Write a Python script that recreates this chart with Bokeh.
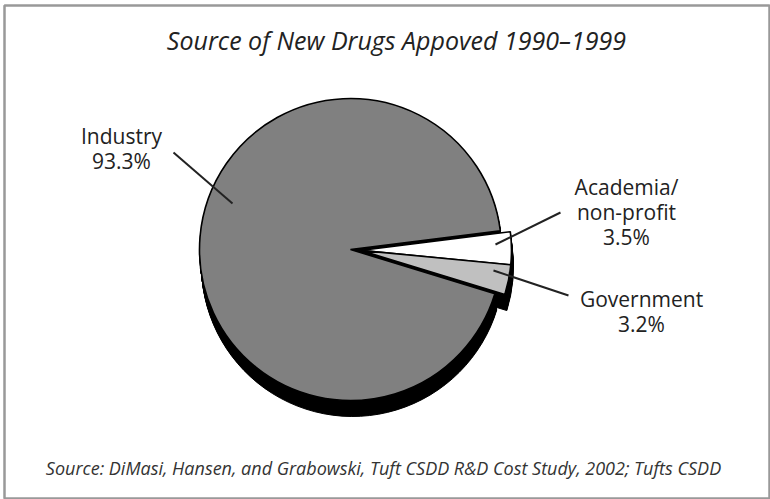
import math
from bokeh.plotting import figure
from bokeh.models import Range1d
from bokeh.core.properties import value
from bokeh.embed import file_html
from bokeh.resources import INLINE

# ---- data ----
categories = ["Industry", "Academia/\nnon-profit", "Government"]
shares = [93.3, 3.5, 3.2]
slice_colors = ["#808080", "#ffffff", "#c0c0c0"]
exploded = [False, True, True]
title_text = "Source of New Drugs Appoved 1990\u20131999"
source_text = "Source: DiMasi, Hansen, and Grabowski, Tuft CSDD R&D Cost Study, 2002; Tufts CSDD"

# ---- layout (pixels, y measured from top) ----
W, H = 770, 499
CX, CY, R = 350, 249, 151
START_DEG = 7.1          # upper edge of the exploded block
EXPLODE = 10
SHADOW = (2, 16)
label_pos = {            # centre x, first baseline y
    "Industry": (121, 135),
    "Academia/\nnon-profit": (626, 186),
    "Government": (641, 298),
}
line_h = 25
leaders = {
    "Industry": ((173, 152), (232, 203)),
    "Academia/\nnon-profit": ((560, 212), (495, 244)),
    "Government": ((493, 270), (568, 295)),
}

def py(y):
    return H - y

p = figure(width=W, height=H, x_range=Range1d(0, W), y_range=Range1d(0, H),
           output_backend="svg", toolbar_location=None, min_border=0,
           x_axis_type=None, y_axis_type=None)
p.grid.visible = False
p.outline_line_color = None
p.background_fill_color = "white"
p.border_fill_color = "white"

# compute angles: exploded slices clockwise from START, industry takes the rest
total = sum(shares)
angles = {}
a = math.radians(START_DEG)
for cat, s, ex in zip(categories, shares, exploded):
    if ex:
        span = 2 * math.pi * s / total
        angles[cat] = (a - span, a)
        a -= span
end_exploded = a
for cat, s, ex in zip(categories, shares, exploded):
    if not ex:
        angles[cat] = (math.radians(START_DEG), end_exploded + 2 * math.pi)

mid = (math.radians(START_DEG) + end_exploded) / 2
xs, ys, st, en, cols = [], [], [], [], []
for cat, col, ex in zip(categories, slice_colors, exploded):
    ox = EXPLODE * math.cos(mid) if ex else 0
    oy = EXPLODE * math.sin(mid) if ex else 0
    xs.append(CX + ox)
    ys.append(py(CY) + oy)
    st.append(angles[cat][0])
    en.append(angles[cat][1])
    cols.append(col)

# shadow (extrusion)
steps = 16
for k in range(1, steps + 1):
    dx = SHADOW[0] * k / steps
    dy = SHADOW[1] * k / steps
    p.wedge(x=[x + dx for x in xs], y=[y - dy for y in ys], radius=R,
            start_angle=st, end_angle=en, direction="anticlock",
            fill_color="black", line_color="black", line_width=1)

p.wedge(x=xs, y=ys, radius=R, start_angle=st, end_angle=en, direction="anticlock",
        fill_color=cols, line_color="black", line_width=1.6)

# leader lines
p.segment(x0=[leaders[c][0][0] for c in categories], y0=[py(leaders[c][0][1]) for c in categories],
          x1=[leaders[c][1][0] for c in categories], y1=[py(leaders[c][1][1]) for c in categories],
          line_color="#222222", line_width=2)

# labels
tx, ty, tt = [], [], []
for cat, s in zip(categories, shares):
    lines = cat.split("\n") + [f"{s:.1f}%"]
    x0, y0 = label_pos[cat]
    for i, ln in enumerate(lines):
        tx.append(x0)
        ty.append(py(y0 + i * line_h))
        tt.append(ln)
p.text(x=tx, y=ty, text=tt, text_font=value("Open Sans"), text_font_size="21px",
       text_align="center", text_baseline="alphabetic", text_color="#222222")

# title and source
p.text(x=[396], y=[py(39)], text=[title_text], text_font=value("Open Sans"),
       text_font_size="25px", text_font_style="italic", text_align="center",
       text_baseline="alphabetic", text_color="#222222")
p.text(x=[383], y=[py(467)], text=[source_text], text_font=value("Open Sans"),
       text_font_size="18px", text_font_style="italic", text_align="center",
       text_baseline="alphabetic", text_color="#333333")

# frame
p.quad(left=[4], right=[769], bottom=[py(498)], top=[py(5)], fill_alpha=0,
       line_color="#999999", line_width=2.5)

open("out.html", "w").write(file_html(p, INLINE))
